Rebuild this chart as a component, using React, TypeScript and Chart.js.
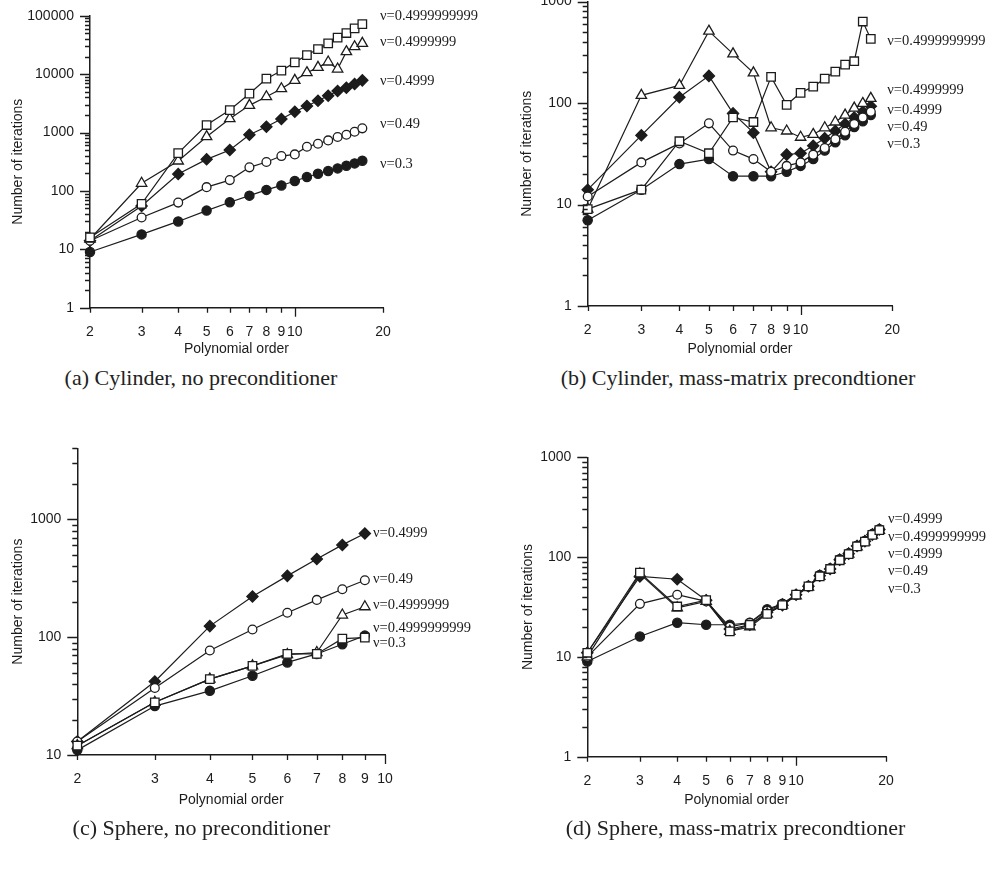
import React, { useEffect, useRef } from "react";
import { Chart, registerables } from "chart.js";

Chart.register(...registerables);

const INK = "#1c1c1c";
const SANS = '"Liberation Sans", Arial, Helvetica, sans-serif';
const SERIF = '"Liberation Serif", "Times New Roman", serif';

// Polynomial orders used by each study
const ordersCylinder = [2, 3, 4, 5, 6, 7, 8, 9, 10, 11, 12, 13, 14, 15, 16, 17];
const ordersSphereNoPre = [2, 3, 4, 5, 6, 7, 8, 9];
const ordersSphereMass = [2, 3, 4, 5, 6, 7, 8, 9, 10, 11, 12, 13, 14, 15, 16, 17, 18, 19];

// Labelled ticks on the polynomial-order axis
const xTicksToTwenty = [2, 3, 4, 5, 6, 7, 8, 9, 10, 20];
const xTicksToTen = [2, 3, 4, 5, 6, 7, 8, 9, 10];

// (a) Cylinder, no preconditioner
const cylNoPreNu03 = [9, 18, 30, 46, 64, 83, 104, 124, 148, 173, 197, 219, 243, 270, 296, 329];
const cylNoPreNu049 = [14, 35, 63, 116, 153, 253, 312, 395, 422, 571, 643, 733, 836, 917, 1032, 1177];
const cylNoPreNu04999 = [14, 55, 194, 347, 501, 917, 1257, 1701, 2271, 2838, 3506, 4267, 5130, 5850, 6758, 7810];
const cylNoPreNu04999999 = [15, 135, 325, 848, 1722, 2915, 4102, 5623, 7810, 10570, 13040, 16100, 12210, 24200, 29440, 33590];
const cylNoPreNu04999999999 = [16, 60, 445, 1343, 2425, 4617, 8340, 11430, 15880, 21200, 26860, 33590, 42000, 50500, 60700, 71970];

// (b) Cylinder, mass-matrix preconditioner
const cylMassNu03 = [7, 14, 25, 28, 19, 19, 19, 21, 24, 28, 34, 41, 48, 58, 66, 76];
const cylMassNu049 = [12, 26, 40, 63, 34, 28, 21, 24, 26, 31, 36, 44, 52, 62, 72, 82];
const cylMassNu04999 = [14, 48, 114, 185, 79, 51, 21, 31, 32, 38, 45, 53, 62, 72, 82, 93];
const cylMassNu04999999 = [9, 119, 149, 510, 305, 198, 57, 53, 46, 49, 57, 65, 76, 89, 99, 111];
const cylMassNu04999999999 = [9, 14, 42, 32, 72, 65, 181, 96, 126, 145, 174, 204, 239, 258, 635, 428];

// (c) Sphere, no preconditioner
const sphNoPreNu03 = [11, 26, 35, 47, 61, 72, 87, 103];
const sphNoPreNu049 = [13, 37, 77, 116, 161, 207, 255, 304];
const sphNoPreNu04999 = [13, 42, 124, 221, 331, 461, 606, 756];
const sphNoPreNu04999999 = [12, 28, 44, 57, 71, 74, 154, 181];
const sphNoPreNu04999999999 = [12, 28, 44, 57, 72, 72, 97, 99];

// (d) Sphere, mass-matrix preconditioner
const sphMassNu03 = [9, 16, 22, 21, 21, 22, 30, 34, 42, 51, 66, 77, 95, 109, 130, 145, 170, 190];
const sphMassNu049 = [10, 34, 42, 36, 20, 22, 29, 34, 42, 51, 65, 77, 94, 108, 129, 144, 169, 188];
const sphMassNu04999 = [11, 64, 60, 37, 19, 21, 28, 33, 42, 51, 65, 76, 94, 108, 129, 144, 168, 189];
const sphMassNu04999999 = [10, 68, 31, 36, 18, 20, 27, 33, 41, 50, 64, 75, 93, 107, 127, 142, 166, 185];
const sphMassNu04999999999 = [11, 70, 32, 37, 18, 21, 27, 33, 42, 51, 64, 76, 93, 107, 128, 143, 167, 186];

type Marker = { style: string; filled: boolean; radius: number };

// Marker per Poisson ratio
const MARKERS: Record<string, Marker> = {
  "0.3": { style: "circle", filled: true, radius: 4.6 },
  "0.49": { style: "circle", filled: false, radius: 4.4 },
  "0.4999": { style: "rectRot", filled: true, radius: 5.6 },
  "0.4999999": { style: "triangle", filled: false, radius: 6 },
  "0.4999999999": { style: "rect", filled: false, radius: 6 },
};

type Series = { nu: string; values: number[] };
type Note = { text: string; at: number };

type PanelSpec = {
  caption: string;
  captionX: number;
  captionY: number;
  orders: number[];
  series: Series[];
  xMax: number;
  xTicks: number[];
  yMin: number;
  yMax: number;
  notes: Note[];
  noteDx: number;
  frame: { left: number; top: number; width: number; height: number };
  area: { l: number; t: number; r: number; b: number };
  yTitleX: number;
  xTitleY: number;
};

const PANELS: PanelSpec[] = [
  {
    caption: "(a) Cylinder, no preconditioner",
    captionX: 201,
    captionY: 378,
    orders: ordersCylinder,
    series: [
      { nu: "0.4999999999", values: cylNoPreNu04999999999 },
      { nu: "0.4999999", values: cylNoPreNu04999999 },
      { nu: "0.49", values: cylNoPreNu049 },
      { nu: "0.4999", values: cylNoPreNu04999 },
      { nu: "0.3", values: cylNoPreNu03 },
    ],
    xMax: 20,
    xTicks: xTicksToTwenty,
    yMin: 1,
    yMax: 100000,
    notes: [
      { text: "ν=0.4999999999", at: 100000 },
      { text: "ν=0.4999999", at: 35000 },
      { text: "ν=0.4999", at: 7620 },
      { text: "ν=0.49", at: 1380 },
      { text: "ν=0.3", at: 292 },
    ],
    noteDx: -3,
    frame: { left: 0, top: -30, width: 497, height: 395 },
    area: { l: 90, t: 15.7, r: 383, b: 307.7 },
    yTitleX: 18,
    xTitleY: 349,
  },
  {
    caption: "(b) Cylinder, mass-matrix precondtioner",
    captionX: 738,
    captionY: 378,
    orders: ordersCylinder,
    series: [
      { nu: "0.4999999999", values: cylMassNu04999999999 },
      { nu: "0.4999999", values: cylMassNu04999999 },
      { nu: "0.49", values: cylMassNu049 },
      { nu: "0.4999", values: cylMassNu04999 },
      { nu: "0.3", values: cylMassNu03 },
    ],
    xMax: 20,
    xTicks: xTicksToTwenty,
    yMin: 1,
    yMax: 1000,
    notes: [
      { text: "ν=0.4999999999", at: 411 },
      { text: "ν=0.4999999", at: 134 },
      { text: "ν=0.4999", at: 85 },
      { text: "ν=0.49", at: 58.4 },
      { text: "ν=0.3", at: 39.2 },
    ],
    noteDx: -5,
    frame: { left: 497, top: -30, width: 497, height: 395 },
    area: { l: 587.7, t: 1.5, r: 892.3, b: 306 },
    yTitleX: 526.7,
    xTitleY: 349,
  },
  {
    caption: "(c) Sphere, no preconditioner",
    captionX: 201.5,
    captionY: 828,
    orders: ordersSphereNoPre,
    series: [
      { nu: "0.4999999999", values: sphNoPreNu04999999999 },
      { nu: "0.4999999", values: sphNoPreNu04999999 },
      { nu: "0.49", values: sphNoPreNu049 },
      { nu: "0.4999", values: sphNoPreNu04999 },
      { nu: "0.3", values: sphNoPreNu03 },
    ],
    xMax: 10,
    xTicks: xTicksToTen,
    yMin: 10,
    yMax: 4000,
    notes: [
      { text: "ν=0.4999", at: 761 },
      { text: "ν=0.49", at: 310 },
      { text: "ν=0.4999999", at: 188 },
      { text: "ν=0.4999999999", at: 118.6 },
      { text: "ν=0.3", at: 88.5 },
    ],
    noteDx: -12,
    frame: { left: 0, top: 400, width: 497, height: 416 },
    area: { l: 77.3, t: 448.3, r: 385, b: 755 },
    yTitleX: 18.3,
    xTitleY: 800,
  },
  {
    caption: "(d) Sphere, mass-matrix precondtioner",
    captionX: 735.5,
    captionY: 828,
    orders: ordersSphereMass,
    series: [
      { nu: "0.4999999999", values: sphMassNu04999999999 },
      { nu: "0.4999999", values: sphMassNu04999999 },
      { nu: "0.49", values: sphMassNu049 },
      { nu: "0.4999", values: sphMassNu04999 },
      { nu: "0.3", values: sphMassNu03 },
    ],
    xMax: 20,
    xTicks: xTicksToTwenty,
    yMin: 1,
    yMax: 1000,
    notes: [
      { text: "ν=0.4999", at: 241 },
      { text: "ν=0.4999999999", at: 160 },
      { text: "ν=0.4999", at: 107.5 },
      { text: "ν=0.49", at: 72.6 },
      { text: "ν=0.3", at: 48.2 },
    ],
    noteDx: 2,
    frame: { left: 497, top: 400, width: 497, height: 416 },
    area: { l: 587.3, t: 457.3, r: 886, b: 756.7 },
    yTitleX: 528.3,
    xTitleY: 800,
  },
];

// Tick marks (long at decades, short in between) and the ν annotations
function makeAxisMarks(p: PanelSpec) {
  return {
    id: "axisMarks",
    afterDraw(chart: any) {
      const { ctx, chartArea: a } = chart;
      const ys = chart.scales.y;
      const xs = chart.scales.x;
      ctx.save();
      ctx.strokeStyle = INK;
      ctx.lineWidth = 1.3;
      ctx.beginPath();
      const e0 = Math.floor(Math.log10(p.yMin));
      const e1 = Math.ceil(Math.log10(p.yMax));
      for (let e = e0; e <= e1; e++) {
        for (let k = 1; k <= 9; k++) {
          const v = k * Math.pow(10, e);
          if (v < p.yMin * 0.999 || v > p.yMax * 1.001) continue;
          const py = Math.round(ys.getPixelForValue(v)) + 0.5;
          const len = k === 1 ? 10 : 5;
          ctx.moveTo(a.left - len, py);
          ctx.lineTo(a.left, py);
        }
      }
      for (const v of p.xTicks) {
        const px = Math.round(xs.getPixelForValue(v)) + 0.5;
        const len = v === 10 ? 9 : 5;
        ctx.moveTo(px, a.bottom);
        ctx.lineTo(px, a.bottom + len);
      }
      ctx.stroke();

      ctx.fillStyle = INK;
      ctx.font = `14.5px ${SERIF}`;
      ctx.textBaseline = "middle";
      ctx.textAlign = "left";
      for (const n of p.notes) {
        ctx.fillText(n.text, a.right + p.noteDx, ys.getPixelForValue(n.at));
      }
      ctx.restore();
    },
  };
}

function makeConfig(p: PanelSpec): any {
  const padTop = p.area.t - p.frame.top;
  const padRight = p.frame.left + p.frame.width - p.area.r;
  const yAxisWidth = p.area.l - p.frame.left;
  const xAxisHeight = p.frame.top + p.frame.height - p.area.b;
  const fontSize = 14;
  const lineH = fontSize * 1.2;
  const axisFont = { family: SANS, size: fontSize };

  return {
    type: "line",
    data: {
      datasets: p.series.map((s) => {
        const m = MARKERS[s.nu];
        return {
          label: "ν=" + s.nu,
          data: p.orders.map((x, i) => ({ x, y: s.values[i] })),
          borderColor: INK,
          borderWidth: 1.2,
          pointStyle: m.style,
          pointRadius: m.radius,
          pointBorderWidth: 1.3,
          pointBackgroundColor: m.filled ? INK : "#ffffff",
          pointBorderColor: INK,
          tension: 0,
          fill: false,
          clip: false,
        };
      }),
    },
    options: {
      responsive: false,
      animation: false,
      events: [],
      layout: { padding: { top: padTop, right: padRight, left: 0, bottom: 0 } },
      plugins: {
        legend: { display: false },
        tooltip: { enabled: false },
      },
      scales: {
        x: {
          type: "logarithmic",
          position: "bottom",
          min: 2,
          max: p.xMax,
          grid: { display: false, drawTicks: false, tickLength: 0 },
          border: { display: true, color: INK, width: 1.5 },
          ticks: {
            autoSkip: false,
            maxRotation: 0,
            minRotation: 0,
            padding: 16,
            color: INK,
            font: axisFont,
            callback: (v: number) => String(v),
          },
          afterBuildTicks: (s: any) => {
            s.ticks = p.xTicks.map((value) => ({ value }));
          },
          afterFit: (s: any) => {
            s.height = xAxisHeight;
          },
          title: {
            display: true,
            text: "Polynomial order",
            color: INK,
            font: axisFont,
            padding: { top: 0, bottom: p.frame.top + p.frame.height - p.xTitleY - lineH / 2 },
          },
        },
        y: {
          type: "logarithmic",
          position: "left",
          min: p.yMin,
          max: p.yMax,
          grid: { display: false, drawTicks: false, tickLength: 0 },
          border: { display: true, color: INK, width: 1.5 },
          ticks: {
            autoSkip: false,
            padding: 16,
            color: INK,
            font: axisFont,
            callback: (v: number) => String(v),
          },
          afterBuildTicks: (s: any) => {
            const out: { value: number }[] = [];
            for (let v = p.yMin; v <= p.yMax * 1.001; v *= 10) out.push({ value: v });
            s.ticks = out;
          },
          afterFit: (s: any) => {
            s.width = yAxisWidth;
          },
          title: {
            display: true,
            text: "Number of iterations",
            color: INK,
            font: axisFont,
            padding: { top: p.yTitleX - p.frame.left - lineH / 2, bottom: 0 },
          },
        },
      },
    },
    plugins: [makeAxisMarks(p)],
  };
}

function Panel({ p }: { p: PanelSpec }) {
  const ref = useRef<HTMLCanvasElement | null>(null);
  useEffect(() => {
    const canvas = ref.current;
    if (!canvas) return;
    const chart = new Chart(canvas, makeConfig(p));
    return () => chart.destroy();
  }, [p]);
  return (
    <>
      <canvas
        ref={ref}
        width={p.frame.width}
        height={p.frame.height}
        style={{
          position: "absolute",
          left: p.frame.left,
          top: p.frame.top,
          width: p.frame.width,
          height: p.frame.height,
        }}
      />
      <div
        style={{
          position: "absolute",
          left: p.captionX,
          top: p.captionY,
          transform: "translate(-50%, -50%)",
          whiteSpace: "nowrap",
          fontFamily: SERIF,
          fontSize: 22,
          color: "#222",
          lineHeight: 1,
        }}
      >
        {p.caption}
      </div>
    </>
  );
}

export default function App() {
  return (
    <div
      style={{
        position: "absolute",
        left: 0,
        top: 0,
        width: 994,
        height: 873,
        overflow: "hidden",
        background: "#ffffff",
      }}
    >
      {PANELS.map((p, i) => (
        <Panel key={i} p={p} />
      ))}
    </div>
  );
}
